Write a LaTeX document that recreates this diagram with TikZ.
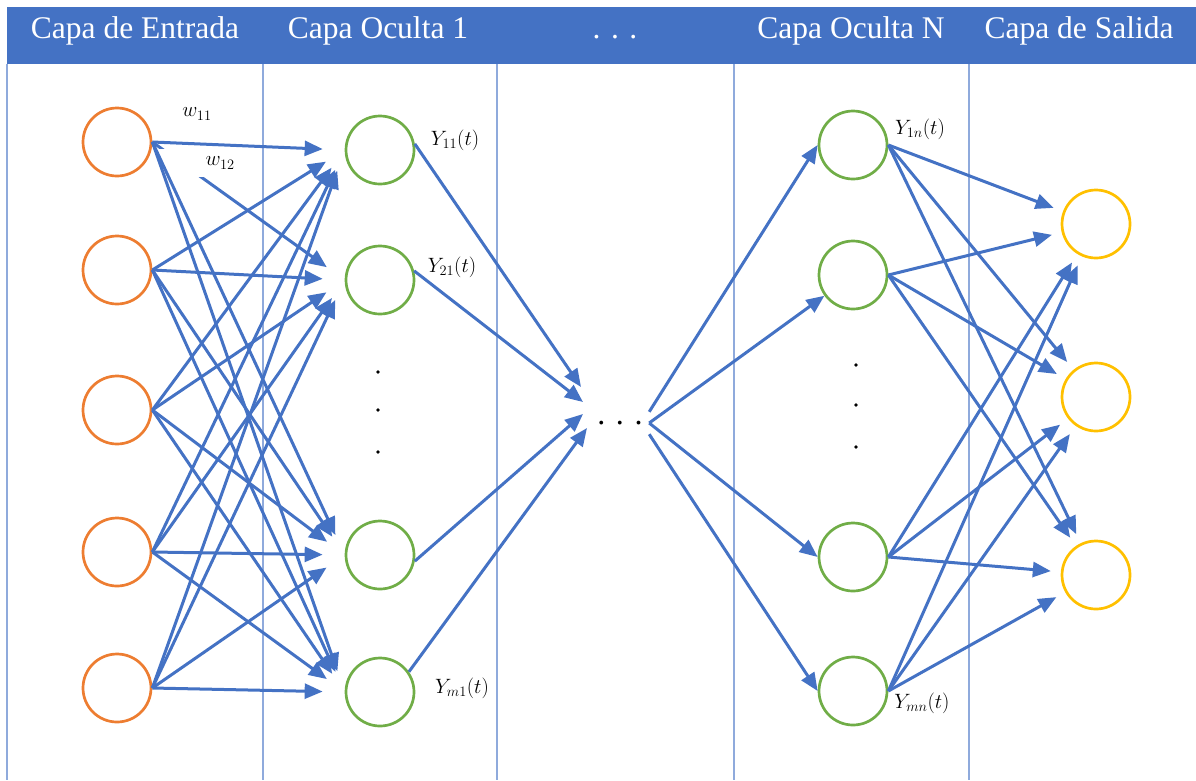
\documentclass[tikz,border=0pt]{standalone}
\usepackage{fontspec}
\setmainfont{Liberation Serif}
\usetikzlibrary{arrows.meta}
\definecolor{bandblue}{HTML}{4472C4}
\definecolor{ruleblue}{HTML}{8FAADC}
\definecolor{arrowblue}{HTML}{4472C4}
\definecolor{inorange}{HTML}{ED7D31}
\definecolor{hidgreen}{HTML}{70AD47}
\definecolor{outgold}{HTML}{FFC000}
\begin{document}
\begin{tikzpicture}[x=1pt,y=-1pt,
  neuron/.style={circle,draw,line width=2.7pt,minimum size=68pt,inner sep=0pt},
  inpn/.style={neuron,draw=inorange},
  hidn/.style={neuron,draw=hidgreen},
  outn/.style={neuron,draw=outgold},
  conn/.style={draw=arrowblue,line width=3pt,-{Triangle[length=18pt,width=15pt]}},
  colrule/.style={draw=ruleblue,line width=1.6pt},
  headtext/.style={text=white,font=\fontsize{31.5}{36}\selectfont,anchor=base,inner sep=0pt},
  lbl/.style={font=\fontsize{22}{24}\selectfont,inner sep=1pt},
  layerdot/.style={fill=black}
]
\useasboundingbox (0,0) rectangle (1196,780);

% column rules and header band
\foreach \x in {7,263,497,734,969}
  \draw[colrule] (\x,64) -- (\x,780);
\fill[bandblue] (7,7) rectangle (1196,64);
\node[headtext] (hd1) at (135,38) {Capa de Entrada};
\node[headtext] (hd2) at (378,38) {Capa Oculta 1};
\node[headtext] (hd3) at (615,38) {. . .};
\node[headtext] (hd4) at (851,38) {Capa Oculta N};
\node[headtext] (hd5) at (1079,38) {Capa de Salida};

% input layer
\node[inpn] (i1) at (117,142) {};
\node[inpn] (i2) at (117,270) {};
\node[inpn] (i3) at (117,410) {};
\node[inpn] (i4) at (117,552) {};
\node[inpn] (i5) at (117,688) {};

% first hidden layer
\node[hidn] (h1) at (380,150) {};
\node[hidn] (h2) at (380,280) {};
\node[hidn] (h3) at (380,555) {};
\node[hidn] (h4) at (380,692) {};

% last hidden layer
\node[hidn] (n1) at (853,145) {};
\node[hidn] (n2) at (853,275) {};
\node[hidn] (n3) at (853,557) {};
\node[hidn] (n4) at (853,691) {};

% output layer
\node[outn] (o1) at (1096,224) {};
\node[outn] (o2) at (1096,397) {};
\node[outn] (o3) at (1096,575) {};

% elided middle layers
\node[minimum width=58pt,minimum height=22pt,inner sep=0pt,font=\fontsize{32}{32}\selectfont] (mid) at (620,423) {. . .};
\coordinate (t1) at (581,387);
\coordinate (t2) at (583,402);
\coordinate (t3) at (583,414);
\coordinate (t4) at (587,428);

% vertical ellipses inside the hidden layers
\foreach \y in {372,410,452} \fill[layerdot] (378,\y) circle (1.9);
\foreach \y in {365,405,447} \fill[layerdot] (856,\y) circle (1.9);

% input -> first hidden layer
\draw[conn,shorten >=22pt] (i1.east) -- (h2.west);
\node[lbl,fill=white,text width=76pt,align=right,minimum height=28pt,anchor=east] (w12) at (236,163) {$w_{12}$};
\foreach \i/\j in {1/1,1/3,1/4,2/1,2/2,2/3,2/4,3/1,3/2,3/3,3/4,4/1,4/2,4/3,4/4,5/1,5/2,5/3,5/4}
  \draw[conn,shorten >=22pt] (i\i.east) -- (h\j.west);
\node[lbl] (w11) at (197,114) {$w_{11}$};

% first hidden layer -> middle
\draw[conn] (h1.10) -- (t1);
\draw[conn] (h2.15) -- (t2);
\draw[conn] (h3.-10) -- (t3);
\draw[conn] (h4.35) -- (t4);

% middle -> last hidden layer
\draw[conn] (mid.north east) -- (n1.west);
\draw[conn] (mid.east) -- (n2);
\draw[conn] (mid.east) -- (n3.west);
\draw[conn] (mid.south east) -- (n4.west);

% last hidden layer -> output
\foreach \a in {1,...,4}
  \foreach \b in {1,2,3}
    \draw[conn,shorten >=10pt] (n\a.east) -- (o\b);

% activation labels
\node[lbl] (y11) at (455,140) {$Y_{11}(t)$};
\node[lbl,font=\fontsize{20}{22}\selectfont] (y21) at (452,267) {$Y_{21}(t)$};
\node[lbl] (ym1) at (462,688) {$Y_{m1}(t)$};
\node[lbl] (y1n) at (920,129) {$Y_{1n}(t)$};
\node[lbl] (ymn) at (922,703) {$Y_{mn}(t)$};
\end{tikzpicture}
\end{document}
